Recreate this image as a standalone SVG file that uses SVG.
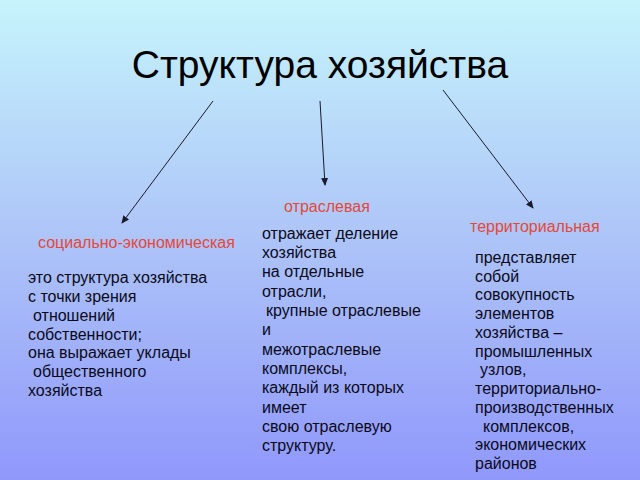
<svg xmlns="http://www.w3.org/2000/svg" width="640" height="480" viewBox="0 0 640 480">
<defs>
<linearGradient id="bg" x1="0" y1="0" x2="0" y2="1">
<stop offset="0" stop-color="#c6f4fc"/>
<stop offset="0.5" stop-color="#adc4f8"/>
<stop offset="1" stop-color="#9098fb"/>
</linearGradient>
<marker id="ah" markerWidth="8" markerHeight="8" refX="7" refY="4" orient="auto" markerUnits="userSpaceOnUse">
<path d="M0,0.5 L8,4 L0,7.5 Z" fill="#1a1a2e"/>
</marker>
<style>
.title{font-family:"Liberation Sans",Arial,sans-serif;font-size:39px;fill:#000}
.head{font-family:"Liberation Sans",Arial,sans-serif;font-size:16px;fill:#e4483c}
.body{font-family:"Liberation Sans",Arial,sans-serif;font-size:16px;fill:#0a0a1a}
.conn{stroke:#1a1a2e;stroke-width:1;fill:none;marker-end:url(#ah)}
</style>
</defs>
<rect width="640" height="480" fill="url(#bg)"/>
<g id="title"><text class="title" x="320" y="78" text-anchor="middle">Структура хозяйства</text></g>
<g id="connectors">
<line class="conn" x1="213" y1="101" x2="122" y2="223"/>
<line class="conn" x1="320" y1="101" x2="325" y2="185"/>
<line class="conn" x1="443" y1="90" x2="533" y2="208"/>
</g>
<g id="node-social">
<text class="head" x="38" y="248">социально-экономическая</text>
<text class="body" x="28" y="283">это структура хозяйства</text>
<text class="body" x="28" y="302">с точки зрения</text>
<text class="body" x="33" y="321">отношений</text>
<text class="body" x="28" y="340">собственности;</text>
<text class="body" x="28" y="358">она выражает уклады</text>
<text class="body" x="33" y="377">общественного</text>
<text class="body" x="28" y="396">хозяйства</text>
</g>
<g id="node-branch">
<text class="head" x="284" y="212">отраслевая</text>
<text class="body" x="262" y="239">отражает деление</text>
<text class="body" x="262" y="258">хозяйства</text>
<text class="body" x="262" y="277">на отдельные</text>
<text class="body" x="262" y="297">отрасли,</text>
<text class="body" x="266" y="316">крупные отраслевые</text>
<text class="body" x="262" y="335">и</text>
<text class="body" x="262" y="355">межотраслевые</text>
<text class="body" x="262" y="374">комплексы,</text>
<text class="body" x="262" y="393">каждый из которых</text>
<text class="body" x="262" y="413">имеет</text>
<text class="body" x="262" y="432">свою отраслевую</text>
<text class="body" x="262" y="451">структуру.</text>
</g>
<g id="node-territorial">
<text class="head" x="470" y="232">территориальная</text>
<text class="body" x="475" y="263">представляет</text>
<text class="body" x="475" y="282">собой</text>
<text class="body" x="475" y="300">совокупность</text>
<text class="body" x="475" y="319">элементов</text>
<text class="body" x="475" y="338">хозяйства –</text>
<text class="body" x="475" y="357">промышленных</text>
<text class="body" x="480" y="375">узлов,</text>
<text class="body" x="475" y="394">территориально-</text>
<text class="body" x="475" y="413">производственных</text>
<text class="body" x="483" y="432">комплексов,</text>
<text class="body" x="475" y="450">экономических</text>
<text class="body" x="475" y="469">районов</text>
</g>
</svg>
